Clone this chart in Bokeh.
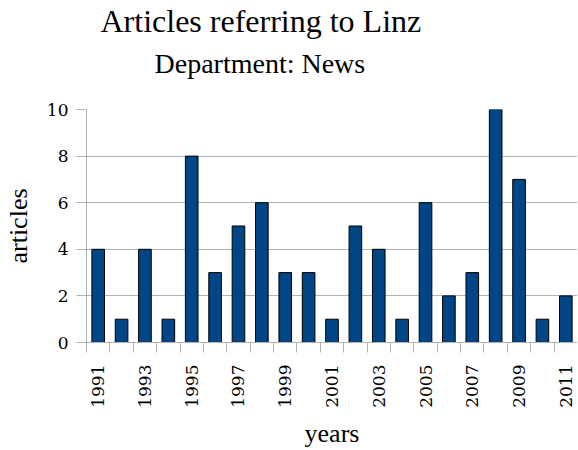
import math
from bokeh.plotting import figure
from bokeh.models import FixedTicker, Title
from bokeh.embed import file_html
from bokeh.resources import INLINE

years = list(range(1991, 2012))
articles = [4, 1, 4, 1, 8, 3, 5, 6, 3, 3, 1, 5, 4, 1, 6, 2, 3, 10, 7, 1, 2]
y_ticks = [0, 2, 4, 6, 8, 10]
x_label_years = [1991, 1993, 1995, 1997, 1999, 2001, 2003, 2005, 2007, 2009, 2011]

GRAY = "#b3b3b3"
SERIF = "Liberation Serif"
TICKF = "DejaVu Serif"

p = figure(frame_width=491, frame_height=233, x_range=(years[0] - 0.5, years[-1] + 0.5),
           y_range=(0, 10), output_backend="svg", toolbar_location=None,
           min_border_left=78, min_border_right=0, min_border_top=0,
           min_border_bottom=0)

# spacer between subtitle and plot area
p.add_layout(Title(text=" ", text_font_size="1px", standoff=21), "above")
p.add_layout(Title(text="Department: News", text_font=SERIF, text_font_size="28px",
                   text_font_style="normal", align="left", offset=68, text_color="black",
                   standoff=14), "above")
p.add_layout(Title(text="Articles referring to Linz", text_font=SERIF, text_font_size="32px",
                   text_font_style="normal", align="left", offset=14, text_color="black",
                   standoff=0), "above")

p.vbar(x=years, top=articles, width=0.54, fill_color="#004586", line_color="black",
       line_width=1)

p.outline_line_color = None
p.xgrid.grid_line_color = None
p.ygrid.grid_line_color = GRAY
p.ygrid.ticker = FixedTicker(ticks=y_ticks)

p.yaxis.ticker = FixedTicker(ticks=y_ticks)
p.yaxis.axis_line_color = GRAY
p.yaxis.major_tick_line_color = GRAY
p.yaxis.major_tick_out = 10
p.yaxis.major_tick_in = 0
p.yaxis.minor_tick_line_color = None
p.yaxis.major_label_text_font = TICKF
p.yaxis.major_label_text_font_size = "17px"
p.yaxis.major_label_text_color = "black"
p.yaxis.major_label_standoff = 8
p.yaxis.axis_label = "articles"
p.yaxis.axis_label_text_font = SERIF
p.yaxis.axis_label_text_font_size = "26px"
p.yaxis.axis_label_text_font_style = "normal"
p.yaxis.axis_label_text_color = "black"
p.yaxis.axis_label_standoff = 11

boundaries = [y - 0.5 for y in years] + [years[-1] + 0.5]
p.xaxis.ticker = FixedTicker(ticks=x_label_years, minor_ticks=boundaries)
p.xaxis.axis_line_color = GRAY
p.xaxis.major_tick_line_color = None
p.xaxis.major_tick_out = 10
p.xaxis.major_tick_in = 0
p.xaxis.minor_tick_line_color = GRAY
p.xaxis.minor_tick_out = 10
p.xaxis.minor_tick_in = 0
p.xaxis.major_label_orientation = math.pi / 2
p.xaxis.major_label_text_font = TICKF
p.xaxis.major_label_text_font_size = "17px"
p.xaxis.major_label_text_color = "black"
p.xaxis.major_label_standoff = 12
p.xaxis.axis_label = "years"
p.xaxis.axis_label_text_font = SERIF
p.xaxis.axis_label_text_font_size = "26px"
p.xaxis.axis_label_text_font_style = "normal"
p.xaxis.axis_label_text_color = "black"
p.xaxis.axis_label_standoff = 8

open("out.html", "w").write(file_html(p, INLINE))
